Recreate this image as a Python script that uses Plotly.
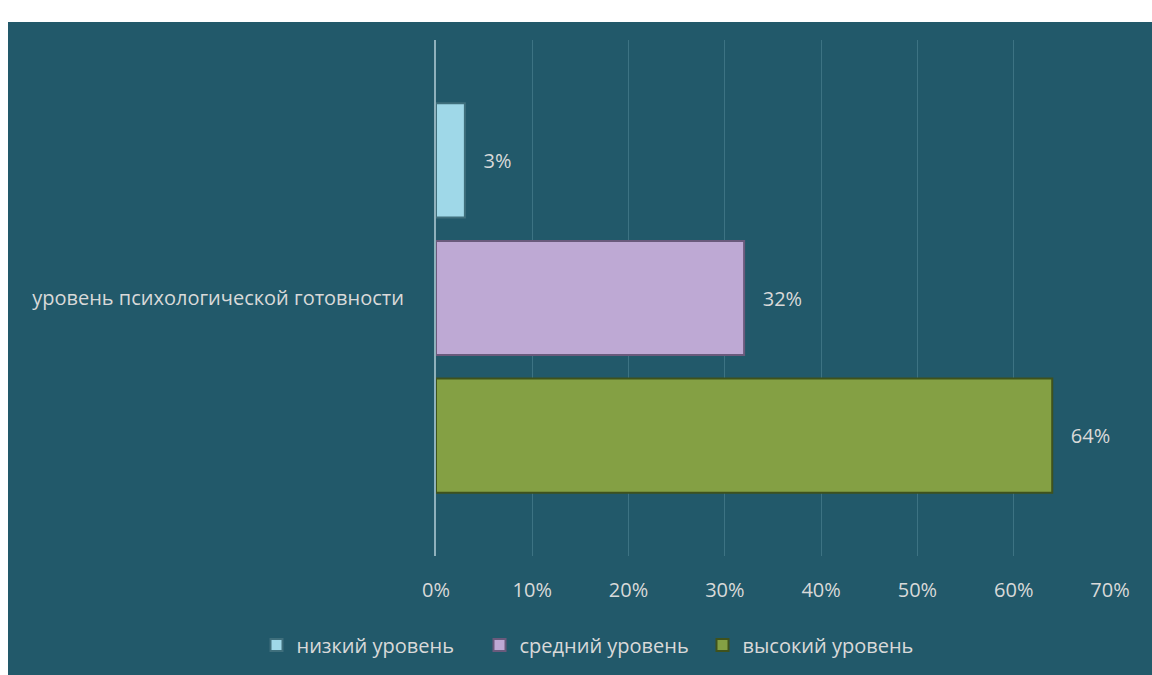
import plotly.graph_objects as go

categories = ["уровень психологической готовности"]
series_names = ["низкий уровень", "средний уровень", "высокий уровень"]
low_values = [0.03]
mid_values = [0.32]
high_values = [0.64]
tick_values = [0, 0.1, 0.2, 0.3, 0.4, 0.5, 0.6, 0.7]

series_values = [low_values, mid_values, high_values]
fill_colors = ["#9fd8e8", "#bea9d4", "#84a044"]
line_colors = ["#3f6f7c", "#6a5a7c", "#3f521c"]

TEXT = "#d9d9d9"
BG = "#22596a"
FONT = "Open Sans"
FS = 20

fig = go.Figure()
for name, vals, fc, lc in zip(series_names, series_values, fill_colors, line_colors):
    fig.add_trace(go.Bar(
        y=categories, x=vals, name=name, orientation="h",
        marker=dict(color=fc, line=dict(color=lc, width=2)),
        texttemplate="\u00a0\u00a0\u00a0%{x:.0%}", textposition="outside",
        textfont=dict(color=TEXT, size=FS, family=FONT),
        cliponaxis=False,
    ))

W, H = 1152, 675
L, R, T, B = 436, 42, 40, 118
pw, ph = W - L - R, H - T - B

# white page margin (top strip and left strip) around the teal chart area
fig.add_shape(type="rect", xref="paper", yref="paper",
              x0=-L / pw - 0.05, x1=(W - L) / pw + 0.05,
              y0=(ph + T - 22) / ph, y1=(ph + T) / ph + 0.05,
              fillcolor="white", line=dict(width=0), layer="below")
fig.add_shape(type="rect", xref="paper", yref="paper",
              x0=-L / pw - 0.05, x1=(8 - L) / pw,
              y0=-B / ph - 0.05, y1=(ph + T) / ph + 0.05,
              fillcolor="white", line=dict(width=0), layer="below")

fig.update_layout(
    width=W, height=H,
    margin=dict(l=L, r=R, t=T, b=B),
    paper_bgcolor=BG, plot_bgcolor="rgba(0,0,0,0)",
    barmode="group", bargap=0.2, bargroupgap=0.17,
    font=dict(family=FONT, color=TEXT, size=FS),
    showlegend=True,
    legend=dict(orientation="h", x=(591 - L) / pw, xanchor="center",
                y=-(645 - (T + ph)) / ph, yanchor="middle",
                font=dict(size=FS, color=TEXT, family=FONT),
                bgcolor="rgba(0,0,0,0)", itemwidth=30, tracegroupgap=0,
                entrywidth=178, entrywidthmode="pixels"),
    xaxis=dict(range=[0, 0.7], tickvals=tick_values, tickformat=".0%",
               showgrid=True, gridcolor="#3d7383", gridwidth=1,
               zeroline=False, showline=False, ticks="",
               ticklabelstandoff=20,
               tickfont=dict(size=FS, color=TEXT, family=FONT)),
    yaxis=dict(autorange="reversed", showgrid=False, zeroline=False,
               showline=True, linecolor="#8fb1bc", linewidth=2,
               ticks="", ticklabelstandoff=26,
               tickfont=dict(size=FS, color=TEXT, family=FONT)),
)

fig.write_html("out.html", config={"displayModeBar": False},
               post_script="document.body.style.margin='0';"
                           "document.body.style.overflow='hidden';"
                           "document.body.style.background='" + BG + "';"
                           "document.documentElement.style.background='" + BG + "';")
